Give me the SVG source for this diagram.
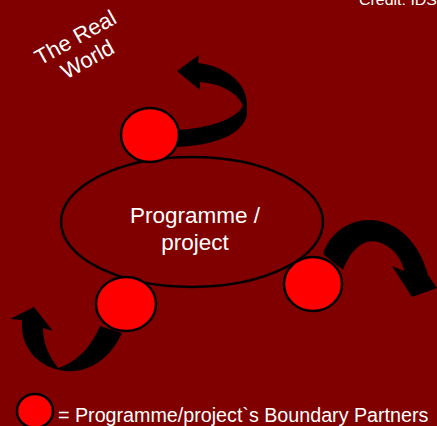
<svg xmlns="http://www.w3.org/2000/svg" width="437" height="426" viewBox="0 0 437 426">
<style>
.txt{font-family:"Liberation Sans",Arial,sans-serif;fill:#ffffff;}
.partner{fill:#ff0000;stroke:#000000;stroke-width:2.5;}
.arrow{fill:#000000;stroke:none;}
</style>
<rect x="0" y="0" width="437" height="426" fill="#800000"/>
<text class="txt" x="359" y="5" font-size="15" textLength="78" lengthAdjust="spacingAndGlyphs">Credit: IDS</text>
<g id="real-world" transform="translate(79,44) rotate(-29)">
<text class="txt" x="0" y="0" font-size="22" text-anchor="middle">The Real</text>
<text class="txt" x="0" y="25" font-size="22" text-anchor="middle">World</text>
</g>
<g id="connectors">
<path class="arrow" d="M177,71 L199,55 L198,63 C225,66 246,82 247,103 L247,115 C242,135 215,145 178,147 L178,130 C208,128 235,120 243,106 C238,93 222,84 200,82 L200,90 Z"/>
<path class="arrow" d="M323,254 C330,232 350,219 372,220 C400,222 420,245 428,275 L437,288 L412,297 L392,266 L404,271 C402,258 392,246 378,242 C362,238 350,252 343,270 Z"/>
<path class="arrow" d="M34,307 L10,319 L22,320 C20,345 35,365 60,370 C85,376 110,360 122,333 L100,326 C92,345 78,362 58,368 C48,355 43,342 43,328 L53,331 Z"/>
</g>
<g id="programme">
<ellipse cx="192" cy="222" rx="131" ry="65" fill="#800000" stroke="#000000" stroke-width="2.5"/>
<text class="txt" x="195" y="223" font-size="22.5" text-anchor="middle">Programme /</text>
<text class="txt" x="195" y="250" font-size="22.5" text-anchor="middle">project</text>
</g>
<g id="partner-top"><ellipse class="partner" cx="150" cy="135" rx="29" ry="27"/></g>
<g id="partner-right"><ellipse class="partner" cx="313" cy="284" rx="29" ry="27"/></g>
<g id="partner-left"><ellipse class="partner" cx="126" cy="304" rx="30" ry="27"/></g>
<g id="legend">
<ellipse class="partner" cx="35" cy="411" rx="18" ry="17"/>
<text class="txt" x="58" y="422" font-size="19.7">= Programme/project`s Boundary Partners</text>
</g>
</svg>
